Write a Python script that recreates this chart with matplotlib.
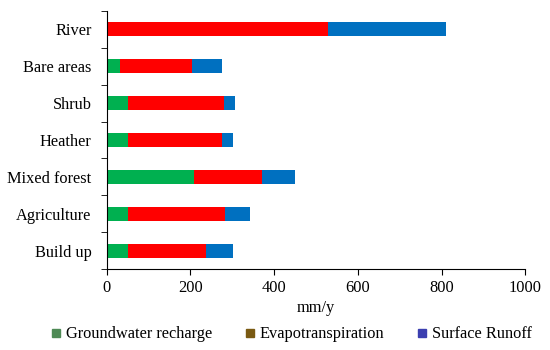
import matplotlib.pyplot as plt
from matplotlib.lines import Line2D
import numpy as np

categories = ["Build up", "Agriculture", "Mixed forest", "Heather", "Shrub", "Bare areas", "River"]
groundwater = [51, 52, 208, 50, 50, 32, 0]
evapotranspiration = [187, 230, 163, 225, 230, 172, 528]
surface_runoff = [63, 60, 79, 27, 27, 71, 282]
series_names = ["Groundwater recharge", "Evapotranspiration", "Surface Runoff"]

plt.rcParams["font.family"] = ["Liberation Serif", "DejaVu Serif"]

fig = plt.figure(figsize=(5.5, 3.5), dpi=100)
ax = fig.add_axes([0.194, 0.231, 0.761, 0.738])

y = np.arange(len(categories))
gw = np.array(groundwater)
et = np.array(evapotranspiration)
sr = np.array(surface_runoff)
h = 0.39
ax.barh(y, gw, height=h, color="#00b050")
ax.barh(y, et, left=gw, height=h, color="#ff0000")
ax.barh(y, sr, left=gw + et, height=h, color="#0070c0")

ax.set_xlim(0, 1000)
ax.set_ylim(-0.5, len(categories) - 0.5)
ax.set_xticks(range(0, 1001, 200))
ax.set_yticks(y)
ax.set_yticklabels(categories)
ax.set_yticks(np.arange(-0.5, len(categories), 1), minor=True)
ax.tick_params(axis="y", which="major", length=0, labelsize=11.8, pad=11)
ax.tick_params(axis="y", which="minor", length=4, direction="out")
ax.tick_params(axis="x", length=4, labelsize=11.8)
for s in ["top", "right"]:
    ax.spines[s].set_visible(False)
ax.set_xlabel("mm/y", fontsize=11.8, labelpad=3)

handles = [
    Line2D([], [], marker="s", linestyle="none", markersize=6, color="#4e8a55"),
    Line2D([], [], marker="s", linestyle="none", markersize=6, color="#7a5a12"),
    Line2D([], [], marker="s", linestyle="none", markersize=6, color="#3b3fb0"),
]
fig.legend(handles, series_names, loc="center", bbox_to_anchor=(0.53, 0.045), ncol=3,
           frameon=False, fontsize=11.8, handlelength=0.6, handletextpad=0.3,
           columnspacing=2.0)

fig.savefig("out.png", dpi=100)
